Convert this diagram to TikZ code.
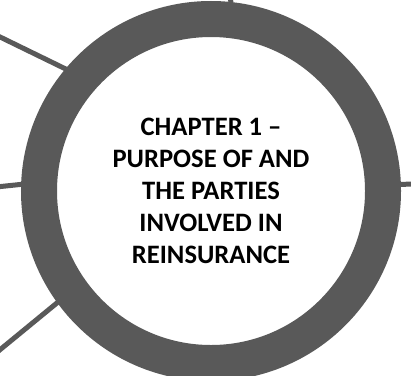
\documentclass[tikz,border=0pt]{standalone}
\usepackage{fontspec}
\setmainfont{Carlito}
\definecolor{ringgrey}{HTML}{595959}
\tikzset{
  hubring/.style={circle, draw=ringgrey, line width=36pt, minimum size=344pt,
    inner sep=0pt, outer sep=18pt, align=center,
    font=\fontsize{26.6}{32}\selectfont\bfseries, text=black},
  spoke/.style={draw=ringgrey, line width=5pt, shorten >=-10pt}
}
\begin{document}
\begin{tikzpicture}[x=1pt,y=-1pt]
\useasboundingbox (0,0) rectangle (411,375);
\clip (0,0) rectangle (411,375);
\node[hubring] (hub) at (211,191) {CHAPTER 1 –\\PURPOSE OF AND\\THE PARTIES\\INVOLVED IN\\REINSURANCE};
\coordinate (ul) at (-4,35);
\coordinate (lf) at (-4,187);
\coordinate (ll) at (-4,353);
\coordinate (tp) at (230,-5);
\coordinate (rt) at (415,184);
\draw[spoke] (ul) -- (hub.140.7);
\draw[spoke] (lf) -- (hub.178.8);
\draw[spoke] (ll) -- (hub.216.6);
\draw[spoke] (tp) -- (hub.84.3);
\draw[spoke] (rt) -- (hub.2.1);
\end{tikzpicture}
\end{document}
